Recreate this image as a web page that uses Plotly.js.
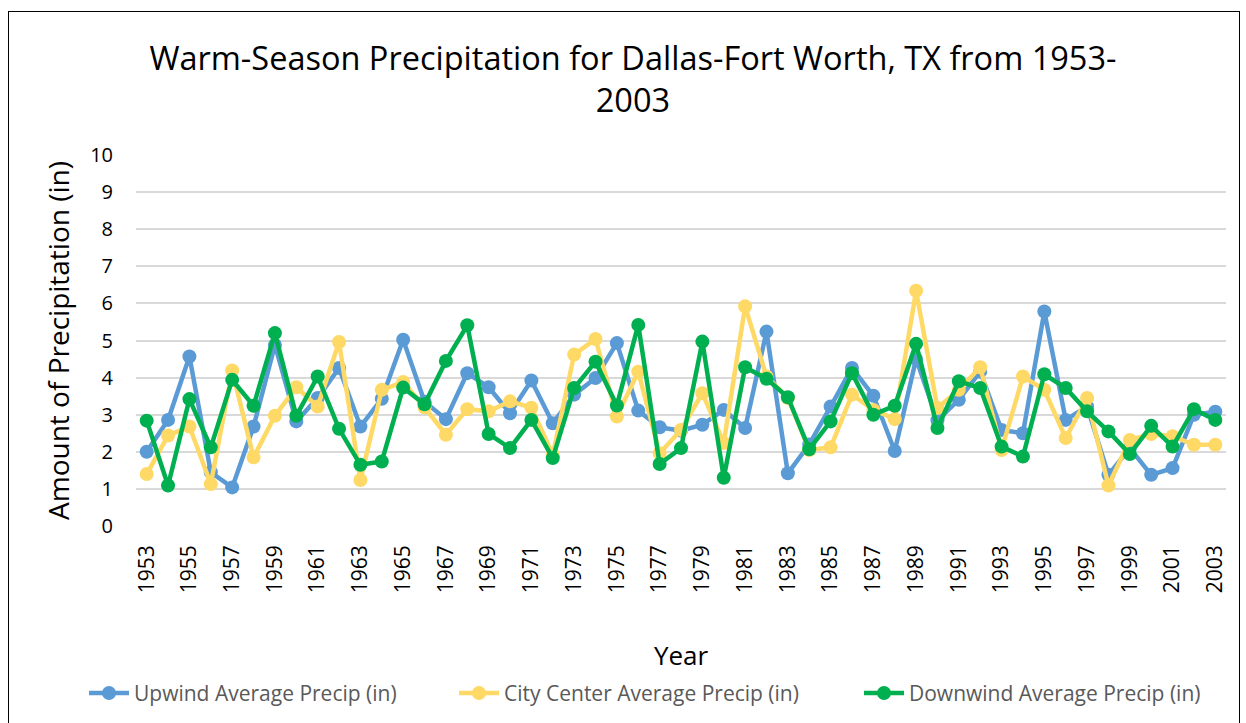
<!DOCTYPE html>
<html>
<head>
<meta charset="utf-8">
<script src="https://cdn.plot.ly/plotly-3.0.1.min.js"></script>
<style>
  html, body { margin: 0; padding: 0; background: #fff; overflow: hidden; }
  #chart { width: 1246px; height: 723px; position: absolute; left: 0; top: 0; }
  #frame { position: absolute; left: 8px; top: 11px; width: 1230px; height: 800px;
           border: 1.5px solid #000; pointer-events: none; }
</style>
</head>
<body>
<div id="chart"></div>
<div id="frame"></div>
<script>
const years = [1953,1954,1955,1956,1957,1958,1959,1960,1961,1962,
               1963,1964,1965,1966,1967,1968,1969,1970,1971,1972,
               1973,1974,1975,1976,1977,1978,1979,1980,1981,1982,
               1983,1984,1985,1986,1987,1988,1989,1990,1991,1992,
               1993,1994,1995,1996,1997,1998,1999,2000,2001,2002,2003];

const upwind = [2.00,2.86,4.57,1.45,1.04,2.68,4.88,2.82,3.45,4.26,
                2.68,3.43,5.02,3.35,2.88,4.12,3.74,3.04,3.92,2.77,
                3.54,3.99,4.93,3.11,2.66,2.57,2.73,3.13,2.64,5.24,
                1.42,2.20,3.22,4.26,3.51,2.02,4.50,2.85,3.40,4.16,
                2.59,2.50,5.78,2.86,3.22,1.38,2.10,1.38,1.56,3.00,3.08];

const cityCenter = [1.40,2.44,2.68,1.13,4.19,1.85,2.97,3.74,3.22,4.96,
                    1.24,3.67,3.88,3.20,2.46,3.15,3.09,3.36,3.19,1.92,
                    4.62,5.04,2.95,4.16,1.96,2.59,3.58,2.24,5.92,4.03,
                    3.45,2.05,2.12,3.54,3.13,2.88,6.34,3.18,3.67,4.28,
                    2.05,4.03,3.67,2.37,3.45,1.09,2.32,2.48,2.42,2.19,2.19];

const downwind = [2.84,1.09,3.42,2.12,3.94,3.24,5.20,2.97,4.03,2.62,
                  1.65,1.74,3.73,3.28,4.45,5.41,2.48,2.10,2.86,1.83,
                  3.72,4.43,3.25,5.42,1.67,2.10,4.97,1.30,4.28,3.97,
                  3.47,2.07,2.82,4.12,3.00,3.24,4.91,2.64,3.90,3.72,
                  2.14,1.87,4.09,3.72,3.09,2.55,1.94,2.70,2.14,3.15,2.86];

const seriesNames = ["Upwind Average Precip (in)", "City Center Average Precip (in)", "Downwind Average Precip (in)"];
const tickYears = [1953,1955,1957,1959,1961,1963,1965,1967,1969,1971,1973,1975,1977,1979,
                   1981,1983,1985,1987,1989,1991,1993,1995,1997,1999,2001,2003];
const yTicks = [0,1,2,3,4,5,6,7,8,9,10];

const FONT = "Open Sans, Lato, sans-serif";
const colors = ["#5B9BD5", "#FFD966", "#00B050"];
const series = [upwind, cityCenter, downwind];
const legendIds = ["legend", "legend2", "legend3"];
const legendLeft = [84, 454, 859];

const traces = series.map((vals, i) => ({
  type: "scatter",
  mode: "lines+markers",
  x: years,
  y: vals,
  name: seriesNames[i],
  legend: legendIds[i],
  line: { color: colors[i], width: 4.5 },
  marker: { color: colors[i], size: 14 },
  hoverinfo: "x+y+name"
}));

function legendAt(px) {
  return {
    orientation: "h",
    xref: "container", x: px / 1246, xanchor: "left",
    yref: "container", y: 0.041, yanchor: "middle",
    font: { family: FONT, size: 21, color: "#595959" },
    itemwidth: 40, bgcolor: "rgba(0,0,0,0)"
  };
}

const layout = {
  width: 1246, height: 723,
  paper_bgcolor: "#fff", plot_bgcolor: "#fff",
  margin: { l: 136, r: 20, t: 155, b: 197 },
  font: { family: FONT, color: "#000" },
  title: {
    text: "Warm-Season Precipitation for Dallas-Fort Worth, TX from 1953-<br>2003",
    font: { family: FONT, size: 32.5, color: "#000" },
    xref: "container", x: 0.508, xanchor: "center",
    yref: "container", y: 0.903, yanchor: "middle"
  },
  xaxis: {
    range: [1952.5, 2003.5],
    tickmode: "array", tickvals: tickYears, ticktext: tickYears.map(String),
    tickangle: -90, tickfont: { family: FONT, size: 21, color: "#000" },
    ticklabelstandoff: 14,
    showgrid: false, zeroline: false, showline: false, ticks: "",
    title: { text: "Year", font: { family: FONT, size: 26, color: "#000" }, standoff: 68 }
  },
  yaxis: {
    range: [0, 10],
    tickmode: "array", tickvals: yTicks,
    tickfont: { family: FONT, size: 20, color: "#000" },
    ticklabelstandoff: 22,
    showgrid: true, gridcolor: "#D9D9D9", gridwidth: 1.5,
    zeroline: false, showline: false, ticks: "", ticklen: 0,
    title: { text: "Amount of Precipitation (in)", font: { family: FONT, size: 28, color: "#000" }, standoff: 12 }
  },
  showlegend: true,
  legend: legendAt(legendLeft[0]),
  legend2: legendAt(legendLeft[1]),
  legend3: legendAt(legendLeft[2])
};

Plotly.newPlot("chart", traces, layout, { displayModeBar: false, staticPlot: false });
</script>
</body>
</html>
